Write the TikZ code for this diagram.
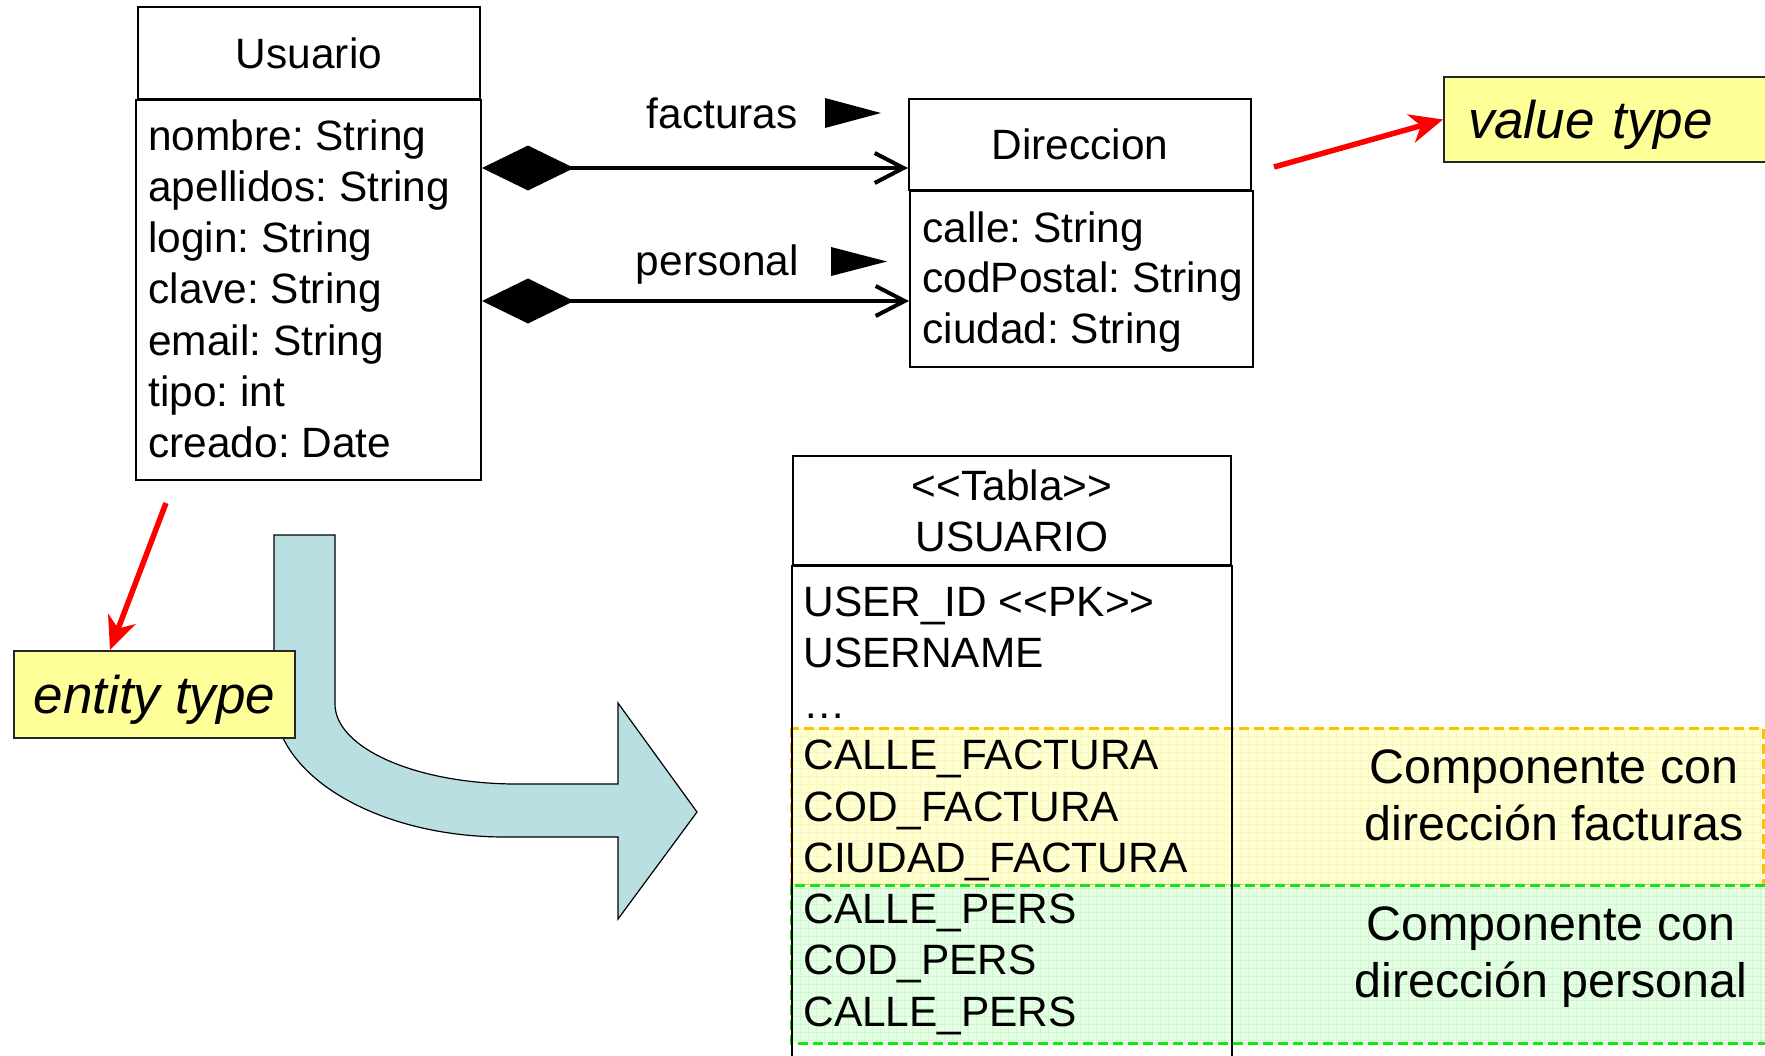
\documentclass[tikz,border=0pt]{standalone}
\usepackage{fontspec}
\setmainfont{Liberation Sans}
\usetikzlibrary{arrows.meta}
\definecolor{notefill}{RGB}{255,255,153}
\definecolor{flowblue}{RGB}{185,223,227}
\definecolor{facfill}{RGB}{255,255,212}
\definecolor{facgrid}{RGB}{255,247,185}
\definecolor{facedge}{RGB}{255,192,0}
\definecolor{persfill}{RGB}{228,255,228}
\definecolor{persgrid}{RGB}{208,246,208}
\definecolor{persedge}{RGB}{20,230,20}
\def\usugap{51.3}
\def\dirgap{50.5}
\def\tabgap{51.25}
\newcommand{\ltlt}{\mbox{<}\mbox{<}}
\newcommand{\gtgt}{\mbox{>}\mbox{>}}
\frenchspacing

\begin{document}
\begin{tikzpicture}[x=0.5pt, y=-0.5pt,
    every node/.style={font=\fontsize{21.2}{25.5}\selectfont},
    classbox/.style={draw, line width=1pt, inner sep=0pt},
    attr/.style={anchor=base west, inner sep=0pt},
    rolelbl/.style={anchor=base east, inner sep=0pt},
    notebox/.style={draw=black!85, line width=1pt, fill=notefill, inner sep=0pt, text depth=0pt, font=\fontsize{26.5}{30}\selectfont\itshape},
    bandtext/.style={align=center, font=\fontsize{24.2}{28.5}\selectfont},
    bandedge/.style={line width=1.5pt, dash pattern=on 5pt off 2.5pt},
    comp/.style={line width=2pt, {Diamond[length=46pt, width=22.5pt]}-{Straight Barb[length=14.5pt, width=15pt]}},
    redarrow/.style={red, line width=2.75pt, -{Stealth[length=16.5pt, width=14.5pt, inset=5pt]}}]

    % Page frame (pixel units, y downwards).
    \fill[white] (0,0) rectangle (1765,1055);
    \clip (0,0) rectangle (1765,1055);

    % Big bent arrow from the classes to the table.
    \draw[fill=flowblue, line width=0.6pt] (274,535) -- (274,700)
        .. controls (274,775.7) and (377.4,837) .. (505,837) -- (618,837) -- (618,919)
        -- (697,812) -- (618,703) -- (618,784) -- (517,784)
        .. controls (416.5,784) and (335,748.2) .. (335,704) -- (335,535) -- cycle;

    % "entity type" note.
    \node[notebox, anchor=north west, minimum width=140.5pt, minimum height=43.5pt] (entBox) at (13,650) {entity type};
    \coordinate (entFrom) at (166,503);
    \draw[redarrow] (entFrom) -- ([xshift=-22.25pt]entBox.north);

    % Class Usuario.
    \node[classbox, minimum width=171pt, minimum height=46pt] (usuHead) at (309,53) {Usuario};
    \node[classbox, minimum width=172.5pt, minimum height=190pt, anchor=north west] (usuAttr) at (135,99) {};
    \foreach \a [count=\i] in {nombre: String, apellidos: String, login: String, clave: String, email: String, tipo: int, creado: Date}
        \node[attr] (usuA\i) at (148, {150+(\i-1)*\usugap}) {\a};

    % Class Direccion.
    \node[classbox, minimum width=171pt, minimum height=45.5pt] (dirHead) at (1080,144.5) {Direccion};
    \node[classbox, minimum width=171.5pt, minimum height=88pt, anchor=north west] (dirAttr) at (909,190) {};
    \foreach \a [count=\i] in {calle: String, codPostal: String, ciudad: String}
        \node[attr] (dirA\i) at (922, {242+(\i-1)*\dirgap}) {\a};

    % Compositions with their role names.
    \coordinate (facY) at (0,168);
    \coordinate (persY) at (0,301);
    \draw[comp] (usuAttr.east |- facY) -- (dirHead.west |- facY);
    \draw[comp] (usuAttr.east |- persY) -- (dirAttr.west |- persY);
    \node[rolelbl] (facLbl) at (798,128) {facturas};
    \fill (825,98) -- (881,113) -- (825,128) -- cycle;
    \node[rolelbl] (persLbl) at (799,275) {personal};
    \fill (831,247) -- (887,261.5) -- (831,276) -- cycle;

    % "value type" note.
    \node[notebox, anchor=west, text width=180pt, align=left, inner xsep=12pt, minimum height=42.5pt] (valBox) at (1443,119.5) {value type};
    \coordinate (valFrom) at (1274,167);
    \draw[redarrow] (valFrom) -- (valBox.west);

    % Component bands behind the table.
    \fill[facfill] (791,728) rectangle (1763,885);
    \draw[facgrid, line width=0.3pt, step=4pt] (791,728) grid (1763,885);
    \draw[facedge, bandedge] (791,728) rectangle (1763,885);
    \fill[persfill] (791,885) rectangle (1780,1043);
    \draw[persgrid, line width=0.3pt, step=4pt] (791,885) grid (1780,1043);
    \draw[persedge, bandedge] (791,885) rectangle (1780,1043);

    % Table USUARIO.
    \node[classbox, minimum width=219pt, minimum height=54.5pt, align=center] (tabHead) at (1012,510.5) {\ltlt Tabla\gtgt\\USUARIO};
    \node[classbox, minimum width=220pt, minimum height=260pt, anchor=north west] (tabBody) at (791,565) {};
    \foreach \r [count=\i] in {USER\_ID \ltlt PK\gtgt, USERNAME, \ldots, CALLE\_FACTURA, COD\_FACTURA, CIUDAD\_FACTURA, CALLE\_PERS, COD\_PERS, CALLE\_PERS}
        \node[attr] (tabR\i) at (803, {616+(\i-1)*\tabgap}) {\r};

    % Band captions.
    \node[bandtext] (facNote) at (1554,795) {Componente con\\dirección facturas};
    \node[bandtext] (persNote) at (1551,957.5) {Componente con\\dirección personal};
\end{tikzpicture}
\end{document}
